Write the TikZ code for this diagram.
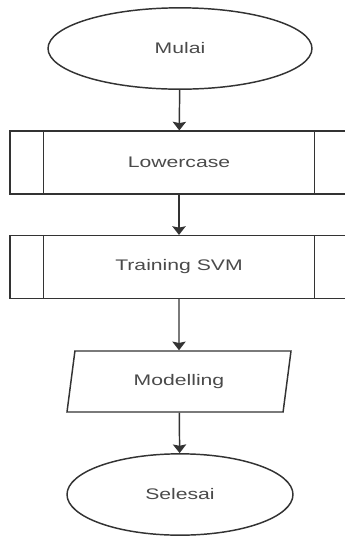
\documentclass[tikz,border=0pt]{standalone}
\usepackage{graphicx}
\usepackage{fontspec}
\setmainfont{Liberation Sans}
\usetikzlibrary{arrows.meta,positioning,shapes.geometric}
\definecolor{garis}{HTML}{333333}
\definecolor{teks}{HTML}{4A4A4A}
\newcommand{\lebar}[1]{\scalebox{1.38}[1]{#1}}
\begin{document}
\begin{tikzpicture}[x=0.75pt,y=-0.75pt,font=\fontsize{11.5}{13}\selectfont,
  terminal/.style={ellipse,draw=garis,line width=1.1pt,text=teks,minimum width=198pt,minimum height=61pt,inner sep=0pt},
  proses/.style={rectangle,draw=garis,line width=1.1pt,text=teks,minimum width=253.5pt,minimum height=47pt,inner sep=0pt},
  data/.style={trapezium,trapezium left angle=61,trapezium right angle=119,trapezium stretches body,
    draw=garis,line width=1.1pt,text=teks,minimum width=168pt,minimum height=45.75pt,inner sep=0pt},
  >={Stealth[length=6.5pt,width=10pt,inset=1pt]}]
  \useasboundingbox (0,0) rectangle (345,537);
  % simbol
  \node[terminal] (mulai) at (180,48.5) {\lebar{Mulai}};
  \node[proses] (lower) at (179,162.5) {\lebar{Lowercase}};
  \node[proses] (svm) at (179,267) {\lebar{Training SVM}};
  \node[data] (model) at (179,381.5) {\lebar{Modelling}};
  \node[terminal,minimum width=169.5pt] (selesai) at (180,494.5) {\lebar{Selesai}};
  % garis tepi proses
  \foreach \p in {lower,svm} {
    \draw[garis,line width=1.1pt] ([xshift=25.5pt]\p.north west) -- ([xshift=25.5pt]\p.south west);
    \draw[garis,line width=1.1pt] ([xshift=-25.5pt]\p.north east) -- ([xshift=-25.5pt]\p.south east);
  }
  % alur
  \draw[->,garis,line width=1.1pt] (mulai) -- (lower);
  \draw[->,garis,line width=1.1pt] (lower) -- (svm);
  \draw[->,garis,line width=1.1pt] (svm) -- (model);
  \draw[->,garis,line width=1.1pt] (model) -- (selesai);
\end{tikzpicture}
\end{document}
